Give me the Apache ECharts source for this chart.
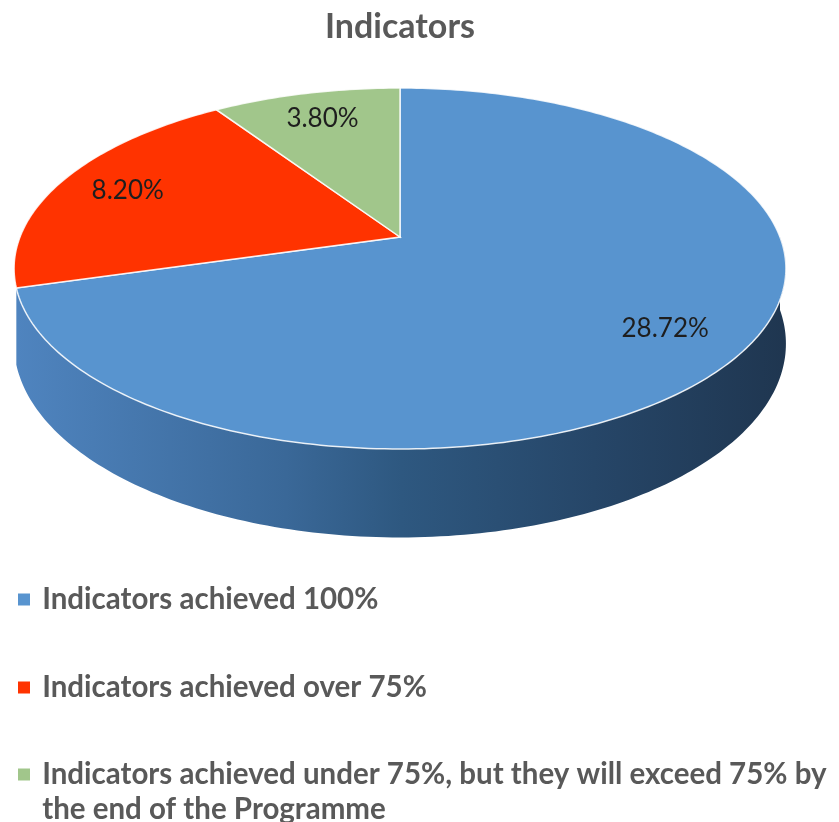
<!DOCTYPE html>
<html>
<head>
<meta charset="utf-8">
<style>
  html, body { margin: 0; padding: 0; background: #fff; }
  #main { width: 839px; height: 822px; }
</style>
<script src="https://cdn.jsdelivr.net/npm/echarts@6/dist/echarts.min.js"></script>
</head>
<body>
<div id="main"></div>
<script>
// data
const categories = [
  'Indicators achieved 100%',
  'Indicators achieved over 75%',
  'Indicators achieved under 75%, but they will exceed 75% by the end of the Programme'
];
const values = [28.72, 8.20, 3.80];

const topColors = ['#5894cf', '#ff3300', '#a1c68b'];
const wallColors = [
  new echarts.graphic.LinearGradient(0, 0, 1, 0, [
    { offset: 0, color: '#4f84bf' },
    { offset: 0.35, color: '#3a6898' },
    { offset: 0.5, color: '#2e5880' },
    { offset: 0.75, color: '#264668' },
    { offset: 1, color: '#1f3650' }
  ]),
  '#b32400',
  '#6f8f5f'
];
const FONT = 'Lato, "Open Sans", sans-serif';

// 3D pie geometry (perspective tilt)
const CX = 400, CY = 237, RX = 380, RY = 175, K = 0.1745, DEPTH = 73;

function project(u, v, dz) {
  const s = 1 / (1 - K * v);
  return [CX + RX * u * s, CY + (RY * v + DEPTH * dz) * s];
}
function pointAt(deg, r, dz) {
  const t = deg * Math.PI / 180;
  return project(r * Math.sin(t), -r * Math.cos(t), dz);
}
function arc(a1, a2, dz) {
  const pts = [];
  const n = Math.max(2, Math.ceil(Math.abs(a2 - a1)));
  for (let i = 0; i <= n; i++) {
    pts.push(pointAt(a1 + (a2 - a1) * i / n, 1, dz));
  }
  return pts;
}

const total = values.reduce((a, b) => a + b, 0);
const angles = [];
let acc = 0;
values.forEach(v => {
  const a1 = acc / total * 360;
  acc += v;
  angles.push([a1, acc / total * 360]);
});

// 顶面
const topSeries = categories.map((name, i) => ({
  name: name,
  type: 'custom',
  coordinateSystem: 'none',
  z: 3,
  itemStyle: { color: topColors[i] },
  data: [values[i]],
  renderItem: (params, api) => {
    const [a1, a2] = angles[i];
    const pts = [project(0, 0, 0)].concat(arc(a1, a2, 0));
    const lp = pointAt((a1 + a2) / 2, 0.8, 0);
    return {
      type: 'group',
      children: [
        {
          type: 'polygon',
          shape: { points: pts },
          style: { fill: topColors[i], stroke: 'rgba(255,255,255,0.85)', lineWidth: 1.5 }
        },
        {
          type: 'text',
          x: lp[0],
          y: lp[1],
          style: {
            text: api.value(0).toFixed(2) + '%',
            fill: '#1e1e1e',
            font: '26px ' + FONT,
            align: 'center',
            verticalAlign: 'middle'
          }
        }
      ]
    };
  }
}));

// 侧面 (只画正面可见的部分)
const wallSeries = categories.map((name, i) => ({
  name: name,
  type: 'custom',
  coordinateSystem: 'none',
  z: 1,
  silent: true,
  data: [values[i]],
  renderItem: () => {
    const mid = (angles[i][0] + angles[i][1]) / 2;
    if (mid < 90 || mid > 270) return null;
    const a1 = Math.max(angles[i][0], 90);
    const a2 = Math.min(angles[i][1], 270);
    const pts = arc(a1, a2, 0).concat(arc(a1, a2, 1).reverse());
    return {
      type: 'polygon',
      shape: { points: pts },
      style: { fill: wallColors[i], stroke: null }
    };
  }
}));

const legendTops = [577, 665, 717];
const chart = echarts.init(document.getElementById('main'));
chart.setOption({
  animation: false,
  title: {
    text: 'Indicators',
    left: 320,
    top: 5,
    textStyle: { color: '#595959', fontSize: 34, fontWeight: 'bold', fontFamily: FONT }
  },
  legend: categories.map((name, i) => ({
    data: [name],
    orient: 'vertical',
    left: 13,
    top: legendTops[i],
    icon: 'rect',
    itemWidth: 12,
    itemHeight: 12,
    itemGap: 0,
    selectedMode: false,
    // 第三项分两行, 首行与图标对齐
    formatter: n => i === 2 ? '\n ' + n.replace(' by ', ' by\n ') : ' ' + n,
    textStyle: {
      color: '#595959',
      fontSize: 29.5,
      fontWeight: 'bold',
      fontFamily: FONT,
      lineHeight: 35
    }
  })),
  series: topSeries.concat(wallSeries)
});
</script>
</body>
</html>
